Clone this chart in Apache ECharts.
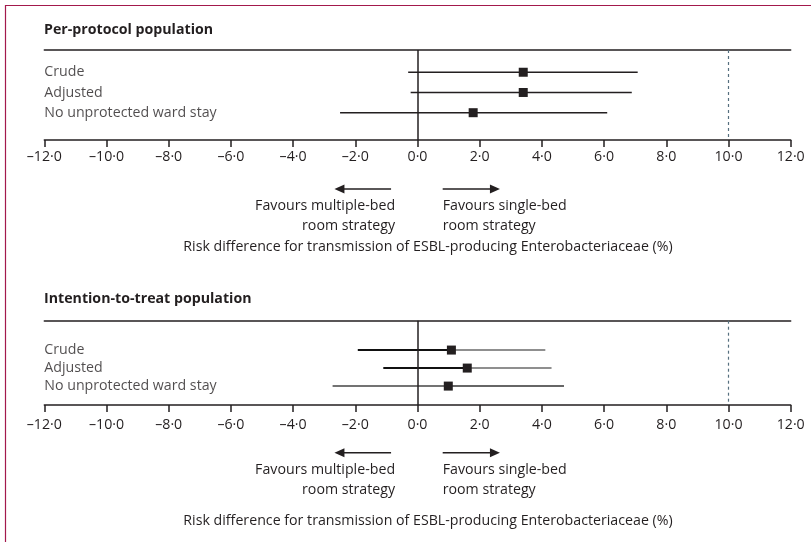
<!DOCTYPE html>
<html><head><meta charset="utf-8">
<script src="https://cdn.jsdelivr.net/npm/echarts@6/dist/echarts.min.js"></script>
<style>html,body{margin:0;padding:0;background:#fff}#c{width:811px;height:542px}</style>
</head><body><div id="c"></div>
<script>
const panelTitles = ['Per-protocol population', 'Intention-to-treat population'];
const rowLabels = ['Crude', 'Adjusted', 'No unprotected ward stay'];
const rowIndex = [1, 2, 3];
const ppPoint = [3.40, 3.40, 1.79];
const ppLow = [-0.30, -0.22, -2.49];
const ppHigh = [7.08, 6.89, 6.10];
const ittPoint = [1.09, 1.60, 0.99];
const ittLow = [-1.92, -1.10, -2.73];
const ittHigh = [4.11, 4.31, 4.71];
const xTicks = [-12, -10, -8, -6, -4, -2, 0, 2, 4, 6, 8, 10, 12];
const nullValue = 0;
const marginValue = 10;
const axisTitle = 'Risk difference for transmission of ESBL-producing Enterobacteriaceae (%)';
const leftNote = 'Favours multiple-bed\nroom strategy';
const rightNote = 'Favours single-bed\nroom strategy';
const leftArrow = [-0.85, -2.67];
const rightArrow = [0.81, 2.65];

const FONT = 'Open Sans';
const FS = 14.2;
const INK = '#231f20';
const chart = echarts.init(document.getElementById('c'), null, {renderer: 'canvas'});

const fmt = v => (v < 0 ? '\u2013' : '') + Math.abs(v).toFixed(1).replace('.', '\u00b7');

const grids = [
  {left: 44.3, right: 20.3, top: 50, height: 90},
  {left: 44.3, right: 20.3, top: 320.7, height: 84.3}
];
const yRanges = [[-0.1, 4.35], [-0.63, 4.05]];
const nameGaps = [100, 109];
const labelMargins = [10, 13];

const xAxes = [], yAxes = [], series = [];
const panels = [
  {low: ppLow, point: ppPoint, high: ppHigh},
  {low: ittLow, point: ittPoint, high: ittHigh}
];

panels.forEach((p, k) => {
  xAxes.push({
    gridIndex: k, type: 'value', min: xTicks[0], max: xTicks[xTicks.length - 1], interval: 2,
    position: 'bottom',
    axisLine: {show: true, onZero: false, lineStyle: {color: INK, width: 1.5}},
    axisTick: {show: true, length: 7, lineStyle: {color: INK, width: 1.5}},
    axisLabel: {color: INK, fontFamily: FONT, fontSize: FS, margin: labelMargins[k], formatter: fmt},
    splitLine: {show: false},
    name: axisTitle, nameLocation: 'middle', nameGap: nameGaps[k],
    nameTextStyle: {color: INK, fontFamily: FONT, fontSize: FS, padding: [0, 0, 0, 21]}
  });
  xAxes.push({
    gridIndex: k, type: 'value', min: xTicks[0], max: xTicks[xTicks.length - 1], interval: 2,
    position: 'top',
    axisLine: {show: true, onZero: false, lineStyle: {color: INK, width: 1.5}},
    axisTick: {show: false}, axisLabel: {show: false}, splitLine: {show: false}
  });
  yAxes.push({gridIndex: k, type: 'value', min: yRanges[k][0], max: yRanges[k][1], inverse: true, show: false});

  const ciData = rowIndex.map((r, i) => [p.low[i], p.point[i], p.high[i], r, i]);
  series.push({
    type: 'custom', xAxisIndex: 2 * k, yAxisIndex: k, z: 3, clip: false,
    data: ciData,
    renderItem: (params, api) => {
      const lo = api.coord([api.value(0), api.value(3)]);
      const pt = api.coord([api.value(1), api.value(3)]);
      const hi = api.coord([api.value(2), api.value(3)]);
      const i = api.value(4);
      let lStyle = {stroke: INK, lineWidth: 1.5};
      let rStyle = {stroke: INK, lineWidth: 1.5};
      if (k === 1 && i < 2) {
        lStyle = {stroke: '#111', lineWidth: 2};
        rStyle = {stroke: '#6a6a6a', lineWidth: 1.5};
      } else if (k === 1) {
        lStyle = {stroke: '#444', lineWidth: 1.5};
        rStyle = {stroke: '#333', lineWidth: 1.5};
      }
      return {type: 'group', children: [
        {type: 'line', shape: {x1: lo[0], y1: lo[1], x2: pt[0], y2: pt[1]}, style: lStyle},
        {type: 'line', shape: {x1: pt[0], y1: pt[1], x2: hi[0], y2: hi[1]}, style: rStyle}
      ]};
    }
  });
  series.push({
    type: 'scatter', xAxisIndex: 2 * k, yAxisIndex: k, z: 5,
    symbol: 'rect', symbolSize: 9, itemStyle: {color: INK, opacity: 1},
    data: rowIndex.map((r, i) => [p.point[i], r]),
    markLine: {
      silent: true, symbol: 'none', label: {show: false},
      data: [
        {xAxis: nullValue, lineStyle: {color: INK, width: 1.5, type: 'solid'}},
        {xAxis: marginValue, lineStyle: {color: '#56707f', width: 1.2, type: [3, 3]}}
      ]
    }
  });
  series.push({
    type: 'scatter', xAxisIndex: 2 * k, yAxisIndex: k, z: 4,
    symbolSize: 0, silent: true,
    data: rowIndex.map(r => [xTicks[0], r]),
    label: {
      show: true, position: 'right', distance: 0, color: INK, fontFamily: FONT, fontSize: FS,
      formatter: prm => rowLabels[prm.dataIndex]
    }
  });
});

chart.setOption({
  animation: false,
  backgroundColor: '#fff',
  title: panelTitles.map((t, k) => ({
    text: t, left: 44, top: k === 0 ? 23 : 292, padding: 0,
    textStyle: {color: INK, fontFamily: FONT, fontSize: FS, fontWeight: 'bold'}
  })),
  grid: grids,
  xAxis: xAxes,
  yAxis: yAxes,
  series: series
});

// annotations below each axis, positioned with the chart's own x scale
const graphics = [
  {type: 'line', shape: {x1: 5.5, y1: 5, x2: 5.5, y2: 542}, style: {stroke: '#a3194c', lineWidth: 1.2}},
  {type: 'line', shape: {x1: 5, y1: 5.5, x2: 811, y2: 5.5}, style: {stroke: '#a3194c', lineWidth: 1.2}}
];
const arrowGaps = [49, 47.7];
const noteGaps = [56, 54.5];
panels.forEach((p, k) => {
  const axisY = grids[k].top + grids[k].height;
  const px = v => chart.convertToPixel({xAxisIndex: 2 * k}, v);
  const ay = axisY + arrowGaps[k];
  [leftArrow, rightArrow].forEach(a => {
    const x0 = px(a[0]), x1 = px(a[1]);
    const dir = x1 > x0 ? 1 : -1;
    graphics.push({type: 'line', shape: {x1: x0, y1: ay, x2: x1 - dir * 8, y2: ay}, style: {stroke: INK, lineWidth: 1.5}});
    graphics.push({type: 'polygon', shape: {points: [[x1, ay], [x1 - dir * 10, ay - 4.5], [x1 - dir * 10, ay + 4.5]]}, style: {fill: INK}});
  });
  graphics.push({type: 'text', x: px(leftArrow[0]) + 4, y: axisY + noteGaps[k],
    style: {text: leftNote, fill: INK, font: FS + 'px ' + FONT, align: 'right', verticalAlign: 'top', lineHeight: 20}});
  graphics.push({type: 'text', x: px(rightArrow[0]), y: axisY + noteGaps[k],
    style: {text: rightNote, fill: INK, font: FS + 'px ' + FONT, align: 'left', verticalAlign: 'top', lineHeight: 20}});
});
chart.setOption({graphic: graphics});
</script></body></html>
